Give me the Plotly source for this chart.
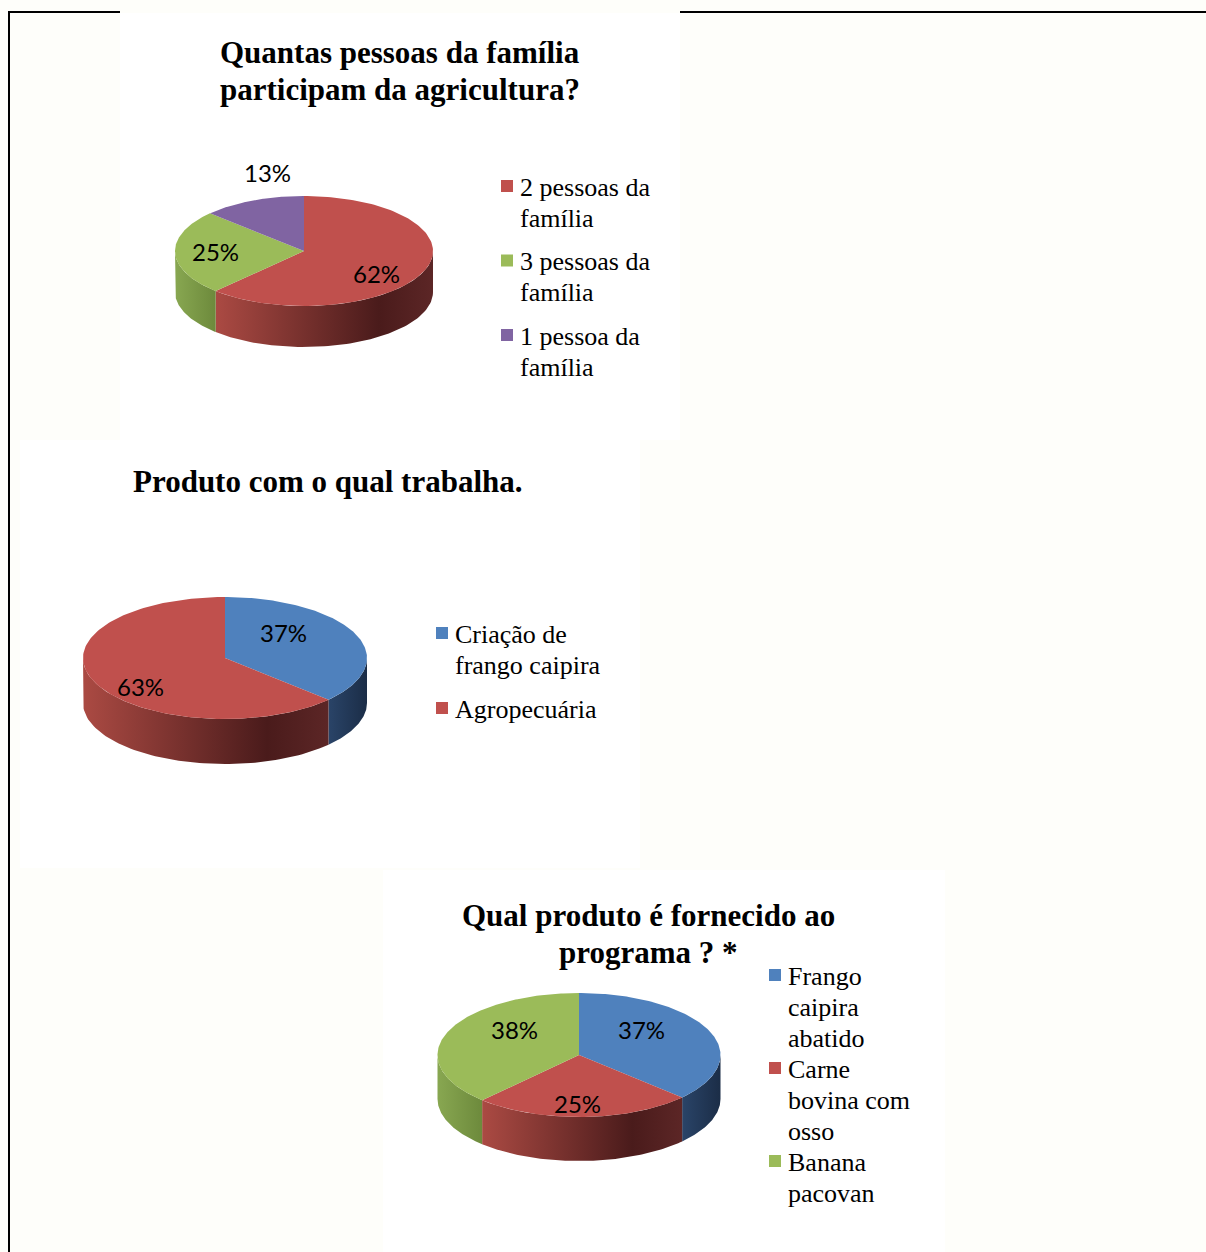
import textwrap
import numpy as np
import plotly.graph_objects as go

W, H = 1206, 1252

# ---------------- data ----------------
pie1_title = ["Quantas pessoas da família", "participam da agricultura?"]
pie1_labels = ["2 pessoas da família", "3 pessoas da família", "1 pessoa da família"]
pie1_values = [62, 25, 13]

pie2_title = ["Produto com o qual trabalha."]
pie2_labels = ["Criação de frango caipira", "Agropecuária"]
pie2_values = [37, 63]

pie3_title = ["Qual produto é fornecido ao", "programa ? *"]
pie3_labels = ["Frango caipira abatido", "Carne bovina com osso", "Banana pacovan"]
pie3_values = [37, 25, 38]

# ---------------- styles ----------------
BLUE, RED, GREEN, PURPLE = "#4F81BD", "#C0504D", "#9BBB59", "#8064A2"
SIDE = {
    BLUE: [[0, "#2a4468"], [1, "#1b2d47"]],
    RED: [[0, "#ab4a43"], [0.75, "#4a1b1b"], [1, "#5c2626"]],
    GREEN: [[0, "#88a751"], [1, "#6d8a3c"]],
    PURPLE: [[0, "#6a5388"], [1, "#3e2f52"]],
}
SERIF = "Liberation Serif"
SANS = "Lato"

charts = [
    dict(title=pie1_title, title_x=400, title_y=52, labels=pie1_labels, values=pie1_values,
         colors=[RED, GREEN, PURPLE], cx=304, cy=251, rx=129, ry=55, depth=41,
         leg_x=507, leg_y=187, leg_wrap=12, leg_gap=12.5,
         lab_shift=[(-2, 10), (-9, -1), (None, None)]),
    dict(title=pie2_title, title_x=328, title_y=481, labels=pie2_labels, values=pie2_values,
         colors=[BLUE, RED], cx=225, cy=658, rx=142, ry=61, depth=45,
         leg_x=442, leg_y=634, leg_wrap=14, leg_gap=13,
         lab_shift=[(-22, -10), (-4, 13)]),
    dict(title=pie3_title, title_x=648, title_y=915, labels=pie3_labels, values=pie3_values,
         colors=[BLUE, RED, GREEN], cx=579, cy=1055, rx=141.5, ry=62, depth=44,
         leg_x=775, leg_y=976, leg_wrap=10, leg_gap=0,
         lab_shift=[(-18, -10), (-4, 10), (17, -11)]),
]

fig = go.Figure()
annotations = []
shapes = []

# white chart areas + border
for x0, y0, x1, y1 in [(120, 13, 680, 440), (20, 440, 640, 868), (383, 870, 945, 1252)]:
    shapes.append(dict(type="rect", xref="x", yref="y", x0=x0, y0=y0, x1=x1, y1=y1,
                       fillcolor="white", line=dict(width=0), layer="below"))
shapes.append(dict(type="line", xref="x", yref="y", x0=9, y0=12, x1=9, y1=H, line=dict(color="black", width=2)))
shapes.append(dict(type="line", xref="x", yref="y", x0=8, y0=12, x1=120, y1=12, line=dict(color="black", width=2)))
shapes.append(dict(type="line", xref="x", yref="y", x0=680, y0=12, x1=W, y1=12, line=dict(color="black", width=2)))


def pt(c, th, dy=0.0):
    return c["cx"] + c["rx"] * np.sin(th), c["cy"] - c["ry"] * np.cos(th) + dy


for c in charts:
    vals = np.array(c["values"], dtype=float)
    frac = vals / vals.sum()
    ends = np.cumsum(frac) * 2 * np.pi
    starts = ends - frac * 2 * np.pi

    # sides (front half only)
    for a0, a1, col in zip(starts, ends, c["colors"]):
        lo, hi = max(a0, np.pi / 2), min(a1, 1.5 * np.pi)
        if hi <= lo:
            continue
        th = np.linspace(lo, hi, 80)
        tx, ty = pt(c, th)
        bx, by = pt(c, th[::-1], c["depth"])
        fig.add_trace(go.Scatter(
            x=np.concatenate([tx, bx, tx[:1]]), y=np.concatenate([ty, by, ty[:1]]),
            mode="lines", fill="toself", line=dict(width=0),
            fillgradient=dict(type="horizontal", colorscale=SIDE[col]),
            hoverinfo="skip", showlegend=False))

    # top faces
    for a0, a1, col in zip(starts, ends, c["colors"]):
        th = np.linspace(a0, a1, 150)
        ax, ay = pt(c, th)
        fig.add_trace(go.Scatter(
            x=np.concatenate([[c["cx"]], ax, [c["cx"]]]),
            y=np.concatenate([[c["cy"]], ay, [c["cy"]]]),
            mode="lines", fill="toself", fillcolor=col, line=dict(width=0),
            hoverinfo="skip", showlegend=False))

    # data labels
    for v, a0, a1, sh in zip(c["values"], starts, ends, c["lab_shift"]):
        mid = (a0 + a1) / 2
        if sh[0] is None:
            lx, ly = pt(c, mid)
            lx, ly = lx + 15, c["cy"] - c["ry"] - 24
        else:
            lx = c["cx"] + 0.62 * c["rx"] * np.sin(mid) + sh[0]
            ly = c["cy"] - 0.62 * c["ry"] * np.cos(mid) + sh[1]
        annotations.append(dict(x=lx, y=ly, xref="x", yref="y", text=f"{v:.0f}%", showarrow=False,
                                font=dict(family=SANS, size=24, color="black"),
                                xanchor="center", yanchor="middle"))

    # title
    for i, line in enumerate(c["title"]):
        annotations.append(dict(x=c["title_x"], y=c["title_y"] + i * 37, xref="x", yref="y",
                                text=f"<b>{line}</b>", showarrow=False,
                                font=dict(family=SERIF, size=31, color="black"),
                                xanchor="center", yanchor="middle"))

    # legend
    y = c["leg_y"]
    for lab, col in zip(c["labels"], c["colors"]):
        fig.add_trace(go.Scatter(x=[c["leg_x"]], y=[y - 1], mode="markers",
                                 marker=dict(symbol="square", size=12, color=col),
                                 hoverinfo="skip", showlegend=False))
        lines = textwrap.wrap(lab, c["leg_wrap"])
        for j, ln in enumerate(lines):
            annotations.append(dict(x=c["leg_x"] + 11, y=y + j * 31, xref="x", yref="y",
                                    text=ln, showarrow=False,
                                    font=dict(family=SERIF, size=26, color="black"),
                                    xanchor="left", yanchor="middle"))
        y += len(lines) * 31 + c["leg_gap"]

fig.update_layout(
    width=W, height=H, margin=dict(l=0, r=0, t=0, b=0),
    paper_bgcolor="#FEFEFA", plot_bgcolor="#FEFEFA",
    xaxis=dict(range=[0, W], visible=False, fixedrange=True),
    yaxis=dict(range=[H, 0], visible=False, fixedrange=True),
    annotations=annotations, shapes=shapes, showlegend=False,
)
fig.write_html("out.html")
